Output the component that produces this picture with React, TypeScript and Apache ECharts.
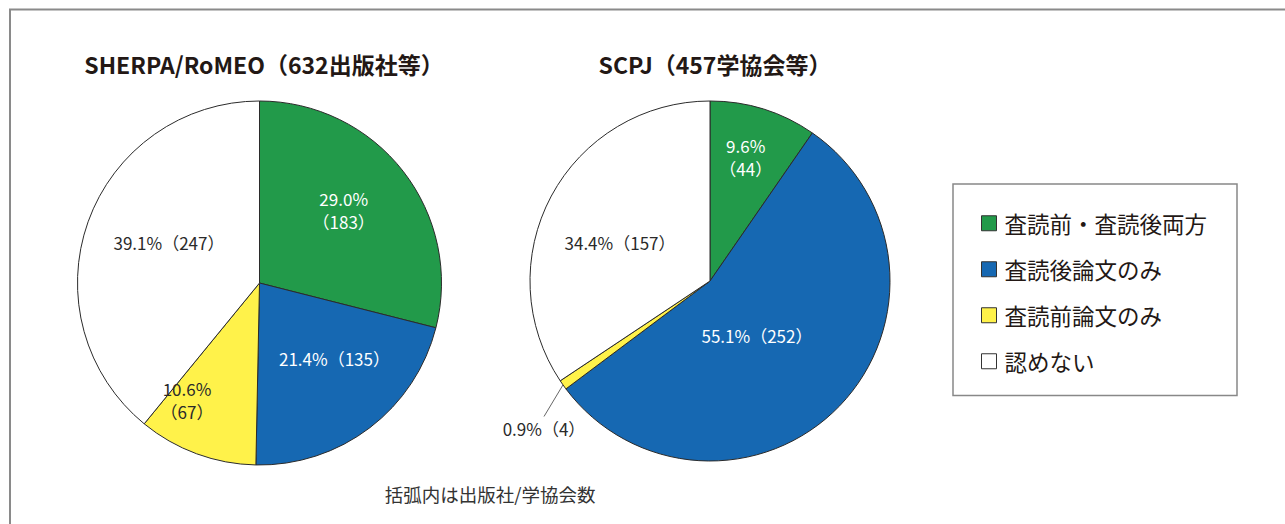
import React, { useEffect, useRef } from "react";
import * as echarts from "echarts";

const categories = ["査読前・査読後両方", "査読後論文のみ", "査読前論文のみ", "認めない"];
const sherpaCounts = [183, 135, 67, 247];
const sherpaPct = ["29.0", "21.4", "10.6", "39.1"];
const scpjCounts = [44, 252, 4, 157];
const scpjPct = ["9.6", "55.1", "0.9", "34.4"];
const titles = ["SHERPA/RoMEO（632出版社等）", "SCPJ（457学協会等）"];
const note = "括弧内は出版社/学協会数";

const colors = ["#229a4a", "#1668b2", "#fff24a", "#ffffff"];
const FONT = "'Noto Sans CJK JP', 'Noto Sans', sans-serif";

// label styling (line breaks / offsets)
const sherpaBreak = [true, false, true, false];
const scpjBreak = [true, false, false, false];
const sherpaOffsets = [[10, -15], [18, 1], [-40, 29], [-2, -9]];
const scpjOffsets = [[8, -35], [-20, -10], [0, 0], [-8, 5]];
const scpjOutsideLabelPos = [544, 428];

function buildData(counts: number[], pct: string[], breaks: boolean[], outsideIdx: number) {
  return counts.map((v, i) => ({
    value: v,
    name: categories[i],
    itemStyle: { color: colors[i] },
    label: {
      formatter: `${pct[i]}%${breaks[i] ? "\n" : ""}（${v}）`,
      color: i < 2 ? "#ffffff" : "#2a2a2a",
      position: i === outsideIdx ? "outside" : "inside",
    },
    labelLine: { show: i === outsideIdx },
  }));
}

export default function App() {
  const ref = useRef<HTMLDivElement>(null);
  useEffect(() => {
    document.body.style.margin = "0";
    const chart = echarts.init(ref.current!, null, { renderer: "svg" });
    const pieCommon = {
      type: "pie",
      radius: 182,
      startAngle: 90,
      clockwise: true,
      avoidLabelOverlap: false,
      itemStyle: { borderColor: "#2b2b2b", borderWidth: 1 },
      label: {
        fontFamily: FONT,
        fontSize: 17,
        lineHeight: 23,
        align: "center",
      },
      labelLine: {
        length: 20,
        length2: 0,
        lineStyle: { color: "#666", width: 1 },
      },
      emphasis: { disabled: true },
    };
    chart.setOption({
      animation: false,
      backgroundColor: "#ffffff",
      title: [
        {
          text: titles[0],
          left: 259,
          top: 47,
          textAlign: "center",
          textStyle: { fontFamily: FONT, fontSize: 23, fontWeight: "bold", color: "#231815" },
        },
        {
          text: titles[1],
          left: 710,
          top: 47,
          textAlign: "center",
          textStyle: { fontFamily: FONT, fontSize: 23, fontWeight: "bold", color: "#231815" },
        },
        {
          text: note,
          left: 485,
          top: 480,
          textAlign: "center",
          textStyle: { fontFamily: FONT, fontSize: 18.5, fontWeight: "normal", color: "#333" },
        },
      ],
      legend: {
        orient: "vertical",
        left: 953,
        top: 184,
        data: categories,
        icon: "rect",
        itemWidth: 15,
        itemHeight: 15,
        itemGap: 23.5,
        padding: [28, 30, 23, 28],
        borderColor: "#888",
        borderWidth: 1.5,
        selectedMode: false,
        itemStyle: { borderColor: "#333", borderWidth: 1 },
        textStyle: { fontFamily: FONT, fontSize: 22.5, color: "#231815", padding: [0, 0, 0, 3] },
      },
      graphic: [
        {
          type: "polyline",
          shape: { points: [[10, 524], [10, 9.5], [1285, 9.5]] },
          style: { stroke: "#8a8a8a", lineWidth: 2, fill: "none" },
          silent: true,
        },
      ],
      series: [
        {
          ...pieCommon,
          center: [259.5, 283],
          data: buildData(sherpaCounts, sherpaPct, sherpaBreak, -1),
          labelLayout: (p: any) => ({ dx: sherpaOffsets[p.dataIndex][0], dy: sherpaOffsets[p.dataIndex][1] }),
        },
        {
          ...pieCommon,
          radius: 180,
          center: [710, 281],
          data: buildData(scpjCounts, scpjPct, scpjBreak, 2),
          labelLayout: (p: any) =>
            p.dataIndex === 2
              ? { x: scpjOutsideLabelPos[0], y: scpjOutsideLabelPos[1], align: "center", verticalAlign: "middle" }
              : { dx: scpjOffsets[p.dataIndex][0], dy: scpjOffsets[p.dataIndex][1] },
        },
      ],
    });
    return () => chart.dispose();
  }, []);
  return <div ref={ref} style={{ width: 1285, height: 524 }} />;
}
